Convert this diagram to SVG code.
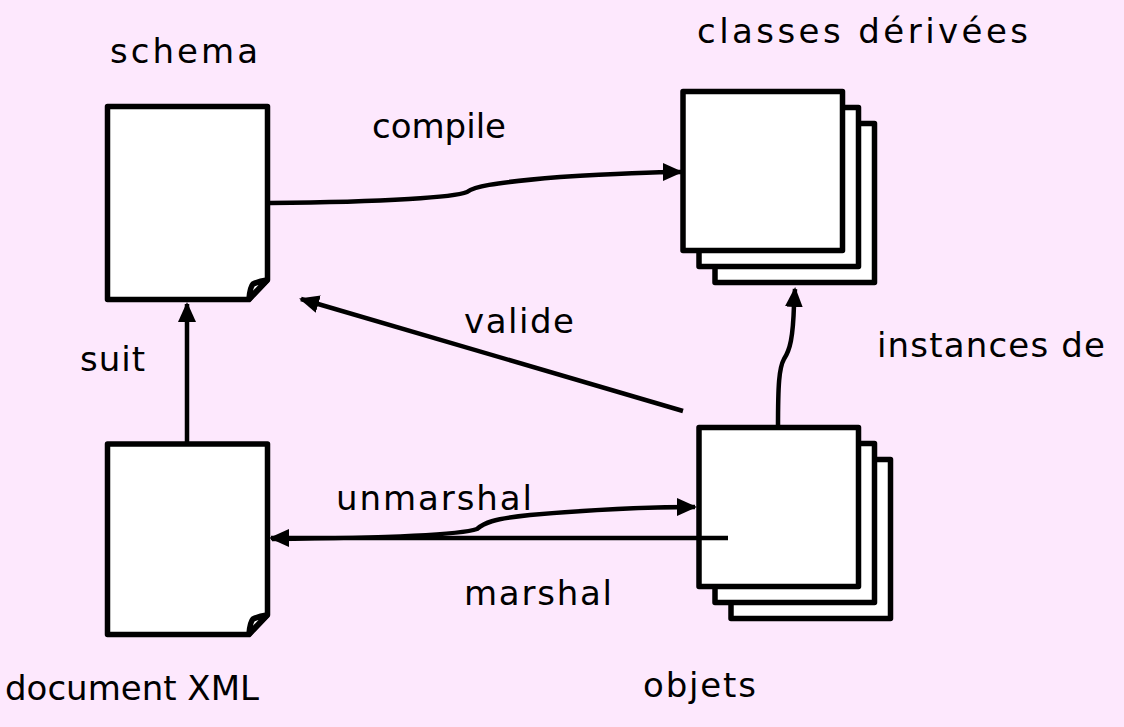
<svg xmlns="http://www.w3.org/2000/svg" width="1124" height="727" viewBox="0 0 1124 727">
  <style>
    .bg { fill: #fde8fd; }
    .shape { fill: #ffffff; stroke: #000000; stroke-width: 5.5; stroke-linejoin: round; }
    .edge { fill: none; stroke: #000000; stroke-width: 4.5; stroke-linecap: butt; }
    .lbl { font-family: "DejaVu Sans", "Open Sans", sans-serif; font-size: 34px; fill: #000000; }
  </style>
  <defs>
    <marker id="arrow" markerUnits="userSpaceOnUse" markerWidth="20" markerHeight="18" refX="18" refY="9" orient="auto">
      <path d="M0,0 L20,9 L0,18 Z" fill="#000000"/>
    </marker>
  </defs>

  <rect class="bg" x="0" y="0" width="1124" height="727"/>

  <!-- schema document with folded corner -->
  <g id="schema">
    <path class="shape" d="M107.5,106.5 H267.5 V280 L249,299.5 H107.5 Z"/>
    <path class="shape" stroke-width="4" d="M249,299 Q250,287 253,284 Q259,281 267,280 Z"/>
    <text class="lbl" x="110" y="63" textLength="148">schema</text>
  </g>

  <!-- XML document with folded corner -->
  <g id="document-xml">
    <path class="shape" d="M107.5,444 H267.5 V615 L249,634.5 H107.5 Z"/>
    <path class="shape" stroke-width="4" d="M249,634 Q250,622 253,619 Q259,616 267,615 Z"/>
    <text class="lbl" x="5" y="700">document XML</text>
  </g>

  <!-- stack of derived classes -->
  <g id="classes-derivees">
    <rect class="shape" x="715" y="123.5" width="159.5" height="159"/>
    <rect class="shape" x="699" y="107.5" width="159.5" height="159"/>
    <rect class="shape" x="683" y="91.5" width="159.5" height="159"/>
    <text class="lbl" x="697" y="43" textLength="331">classes dérivées</text>
  </g>

  <!-- stack of objects -->
  <g id="objets">
    <rect class="shape" x="731" y="459.5" width="159.5" height="159"/>
    <rect class="shape" x="715" y="443.5" width="159.5" height="159"/>
    <rect class="shape" x="699" y="427.5" width="159.5" height="159"/>
    <text class="lbl" x="643" y="697" textLength="113">objets</text>
  </g>

  <!-- connectors -->
  <g id="connectors">
    <path class="edge" marker-end="url(#arrow)" d="M270,203 C390,202 455,197 467,192 C474,187 488,183 560,177 C610,174 650,172 681,172"/>
    <path class="edge" marker-end="url(#arrow)" d="M187,442 L187,304"/>
    <path class="edge" marker-end="url(#arrow)" d="M683,411 L301,299"/>
    <path class="edge" marker-end="url(#arrow)" d="M778,427 C778,385 779,368 784,359 C790,350 793,338 794,305 L795,289"/>
    <path class="edge" marker-end="url(#arrow)" d="M272,539 C380,538 460,535 477,529 C484,523 492,519 530,515 C600,509 650,507 695,507"/>
    <path class="edge" marker-end="url(#arrow)" d="M728,538 L271,538"/>
  </g>

  <!-- connector labels -->
  <g id="labels">
    <text class="lbl" x="372" y="138">compile</text>
    <text class="lbl" x="80" y="371" textLength="65">suit</text>
    <text class="lbl" x="464" y="333" textLength="110">valide</text>
    <text class="lbl" x="877" y="357" textLength="228">instances de</text>
    <text class="lbl" x="336" y="510" textLength="196">unmarshal</text>
    <text class="lbl" x="464" y="605" textLength="148">marshal</text>
  </g>
</svg>
